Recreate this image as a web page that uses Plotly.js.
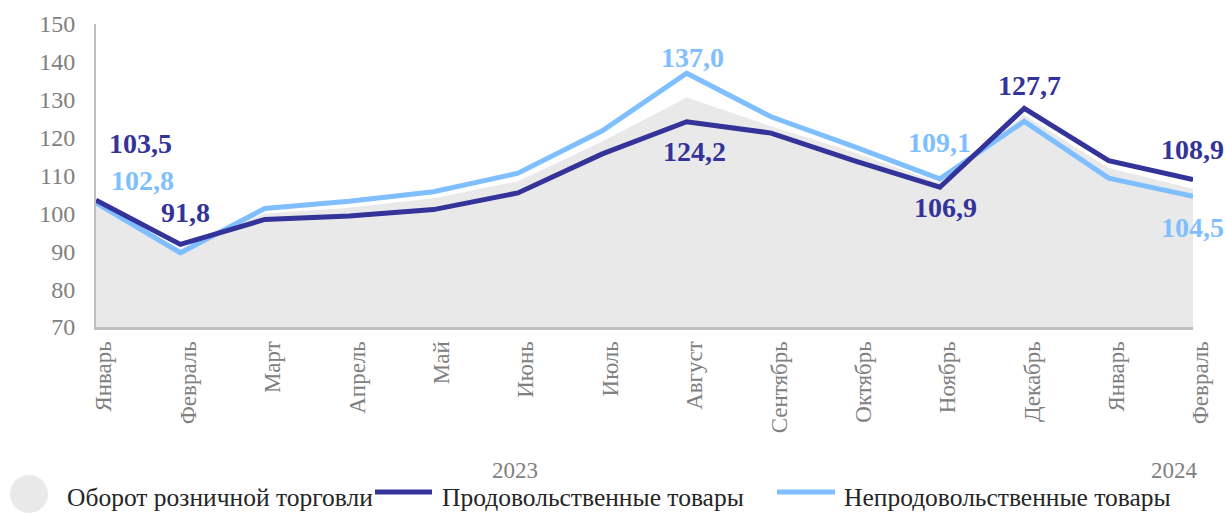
<!DOCTYPE html>
<html>
<head>
<meta charset="utf-8">
<script src="https://cdn.plot.ly/plotly-3.0.1.min.js"></script>
<style>
  html, body { margin: 0; padding: 0; background: #ffffff; }
  #chart { width: 1226px; height: 514px; }
</style>
</head>
<body>
<div id="chart"></div>
<script>
// ---- data ----
const months = ['Январь','Февраль','Март','Апрель','Май','Июнь','Июль','Август','Сентябрь','Октябрь','Ноябрь','Декабрь','Январь','Февраль'];
const years = ['2023', '2024'];
const seriesNames = ['Оборот розничной торговли', 'Продовольственные товары', 'Непродовольственные товары'];
const total   = [103.0, 90.5, 100.0, 101.5, 104.0, 108.5, 119.0, 130.6, 123.0, 116.0, 108.0, 126.0, 112.0, 106.5];
const food    = [103.5, 91.8, 98.4, 99.3, 101.0, 105.4, 115.7, 124.2, 121.2, 113.8, 106.9, 127.7, 113.9, 108.9];
const nonfood = [102.8, 89.6, 101.3, 103.2, 105.7, 110.6, 121.8, 137.0, 125.5, 117.5, 109.1, 124.3, 109.3, 104.5];
const foodLabelIdx    = [0, 1, 7, 10, 11, 13];
const nonfoodLabelIdx = [0, 7, 10, 13];

// ---- styles / positions ----
const DARK = '#333399';
const LIGHT = '#7fbfff';
const AREA = '#e9e9e9';
const GREY = '#808080';
const FONT = 'Liberation Serif, Times New Roman, serif';
const W = 1226, H = 514;
const M = {l: 96, r: 33, t: 24, b: 187};
const PW = W - M.l - M.r, PH = H - M.t - M.b;
const foodShift    = [[44, 57], [5, 32], [8, -30], [6, -20], [5, 23], [-1, 30]];
const nonfoodShift = [[46, 22], [6, 16], [0, 36], [-1, -31]];
const yearX = [4.97, 12.78];

const px = v => (v - M.l) / PW;
const py = v => (H - M.b - v) / PH;
const idx = months.map((_, i) => i);
const fmt = v => v.toFixed(1).replace('.', ',');

const traces = [
  {x: idx, y: total, type: 'scatter', mode: 'lines', fill: 'tozeroy', fillcolor: AREA,
   line: {width: 0, color: AREA}, name: seriesNames[0], showlegend: false, hoverinfo: 'skip'},
  {x: idx, y: nonfood, type: 'scatter', mode: 'lines', line: {color: LIGHT, width: 5},
   name: seriesNames[2], showlegend: false},
  {x: idx, y: food, type: 'scatter', mode: 'lines', line: {color: DARK, width: 5},
   name: seriesNames[1], showlegend: false}
];

const annotations = [];
foodLabelIdx.forEach((i, k) => annotations.push({
  x: i, y: food[i], xref: 'x', yref: 'y', text: '<b>' + fmt(food[i]) + '</b>', showarrow: false,
  xanchor: 'center', yanchor: 'middle',
  xshift: foodShift[k][0], yshift: foodShift[k][1],
  font: {family: FONT, size: 28, color: DARK}
}));
nonfoodLabelIdx.forEach((i, k) => annotations.push({
  x: i, y: nonfood[i], xref: 'x', yref: 'y', text: '<b>' + fmt(nonfood[i]) + '</b>', showarrow: false,
  xanchor: 'center', yanchor: 'middle',
  xshift: nonfoodShift[k][0], yshift: nonfoodShift[k][1],
  font: {family: FONT, size: 28, color: LIGHT}
}));
years.forEach((t, k) => annotations.push({
  x: yearX[k], xref: 'x', y: py(470), yref: 'paper', text: t, showarrow: false,
  xanchor: 'center', yanchor: 'middle',
  font: {family: FONT, size: 23, color: GREY}
}));
// legend texts
const legendTextX = [65, 440, 842];
seriesNames.forEach((t, k) => annotations.push({
  x: px(legendTextX[k]), xref: 'paper', y: py(497), yref: 'paper', text: t, showarrow: false,
  xanchor: 'left', yanchor: 'middle', font: {family: FONT, size: 25.5, color: '#262626'}
}));

const shapes = [
  {type: 'circle', xref: 'paper', yref: 'paper', x0: px(10), x1: px(48), y0: py(513), y1: py(475),
   fillcolor: AREA, line: {width: 0}},
  {type: 'line', xref: 'paper', yref: 'paper', x0: px(375), x1: px(432), y0: py(492), y1: py(492),
   line: {color: DARK, width: 5}},
  {type: 'line', xref: 'paper', yref: 'paper', x0: px(777), x1: px(835), y0: py(492), y1: py(492),
   line: {color: LIGHT, width: 5}}
];

const layout = {
  width: W, height: H,
  margin: M,
  paper_bgcolor: '#ffffff', plot_bgcolor: '#ffffff',
  showlegend: false,
  xaxis: {
    range: [0, 13], tickvals: idx, ticktext: months, tickangle: -90,
    showgrid: false, zeroline: false, showline: true, linecolor: '#bfbfbf', linewidth: 3,
    ticks: '', ticklabelstandoff: 2, ticklabelshift: 8,
    tickfont: {family: FONT, size: 23, color: GREY}, fixedrange: true
  },
  yaxis: {
    range: [70, 150], dtick: 10, tick0: 70,
    showgrid: false, zeroline: false, showline: true, linecolor: '#bfbfbf', linewidth: 2,
    ticks: '', ticklabelstandoff: 14,
    tickfont: {family: FONT, size: 24, color: GREY}, fixedrange: true
  },
  annotations: annotations,
  shapes: shapes
};

Plotly.newPlot('chart', traces, layout, {displayModeBar: false, staticPlot: true});
</script>
</body>
</html>
